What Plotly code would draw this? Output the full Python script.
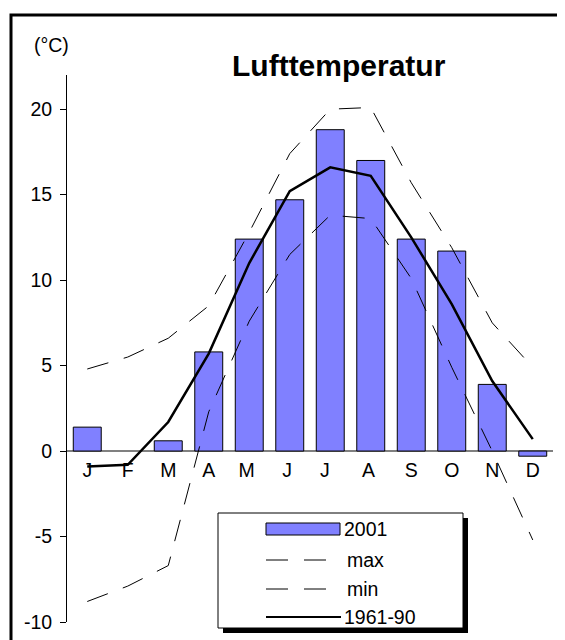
import plotly.graph_objects as go

# ---- data ----
months = ["J", "F", "M", "A", "M ", "J ", "J  ", "A ", "S", "O", "N", "D"]
t2001 = [1.4, None, 0.6, 5.8, 12.4, 14.7, 18.8, 17.0, 12.4, 11.7, 3.9, -0.3]
t_max = [4.8, 5.5, 6.6, 8.5, 12.8, 17.4, 20.0, 20.1, 15.7, 11.9, 7.5, 4.9]
t_min = [-8.8, -7.9, -6.7, 2.3, 7.6, 11.5, 13.8, 13.6, 10.1, 4.9, 0.0, -5.2]
t_norm = [-0.9, -0.8, 1.7, 5.7, 11.0, 15.2, 16.6, 16.1, 12.5, 8.6, 4.1, 0.7]
ytickvals = [-10, -5, 0, 5, 10, 15, 20]
yticktext = ["-10", "-5", "0", "5", "10", "15", "20"]
legend_names = ["2001", "max", "min", "1961-90"]

W, H = 565, 640
OFF = 8  # default page body margin
# plot area in screen pixels
SX0, SX1, SY0, SY1 = 67, 553, 75, 622
L = SX0 - OFF
R = W - (SX1 - OFF)
T = SY0 - OFF
B = H - (SY1 - OFF)
YMIN, YMAX = -10, 22
FONT = "Liberation Sans, Arial, sans-serif"
BAR = "#8080FF"
DASH = "22px,16px"


def px(x):
    return (x - SX0) / (SX1 - SX0)


def py(y):
    return (SY1 - y) / (SY1 - SY0)


fig = go.Figure()
fig.add_trace(go.Bar(x=months, y=t2001, name=legend_names[0],
                     marker=dict(color=BAR, line=dict(color="black", width=1))))
fig.add_trace(go.Scatter(x=months, y=t_max, name=legend_names[1], mode="lines",
                         line=dict(color="black", width=1, dash=DASH)))
fig.add_trace(go.Scatter(x=months, y=t_min, name=legend_names[2], mode="lines",
                         line=dict(color="black", width=1, dash=DASH)))
fig.add_trace(go.Scatter(x=months, y=t_norm, name=legend_names[3], mode="lines",
                         line=dict(color="black", width=2.5)))

shapes = []
# outer frame
shapes.append(dict(type="rect", xref="paper", yref="paper",
                   x0=px(11), x1=px(562), y0=py(15), y1=py(660),
                   line=dict(color="black", width=3), fillcolor="rgba(0,0,0,0)"))
# custom legend: shadow, box
shapes.append(dict(type="rect", xref="paper", yref="paper",
                   x0=px(223), x1=px(468), y0=py(518), y1=py(633),
                   line=dict(width=0), fillcolor="black"))
shapes.append(dict(type="rect", xref="paper", yref="paper",
                   x0=px(218), x1=px(463), y0=py(513), y1=py(628),
                   line=dict(color="black", width=1), fillcolor="white"))
shapes.append(dict(type="rect", xref="paper", yref="paper",
                   x0=px(266), x1=px(340), y0=py(523), y1=py(535),
                   line=dict(color="black", width=1), fillcolor=BAR))
for yy in (560, 589):
    shapes.append(dict(type="line", xref="paper", yref="paper",
                       x0=px(266), x1=px(329), y0=py(yy), y1=py(yy),
                       line=dict(color="black", width=1, dash=DASH)))
shapes.append(dict(type="line", xref="paper", yref="paper",
                   x0=px(266), x1=px(341), y0=py(617), y1=py(617),
                   line=dict(color="black", width=2)))

annotations = []
for name, xx, yy in zip(legend_names, (342, 345, 345, 342), (529, 560, 589, 617)):
    annotations.append(dict(text=name, xref="paper", yref="paper", x=px(xx), y=py(yy),
                            xanchor="left", yanchor="middle", showarrow=False,
                            font=dict(family=FONT, size=19.5, color="black")))
annotations.append(dict(text="<b>Lufttemperatur</b>", xref="paper", yref="paper",
                        x=px(339), y=py(66), xanchor="center", yanchor="middle",
                        showarrow=False, font=dict(family=FONT, size=30, color="black")))
annotations.append(dict(text="(°C)", xref="paper", yref="paper",
                        x=px(32), y=py(45), xanchor="left", yanchor="middle",
                        showarrow=False, font=dict(family=FONT, size=19.5, color="black")))

fig.update_layout(
    width=W, height=H,
    margin=dict(l=L, r=R, t=T, b=B, pad=0),
    paper_bgcolor="white", plot_bgcolor="white",
    showlegend=False, bargap=0.31,
    font=dict(family=FONT, size=19.5, color="black"),
    shapes=shapes, annotations=annotations,
    xaxis=dict(type="category", range=[-0.5, 11.5], anchor="free",
               position=(0 - YMIN) / (YMAX - YMIN), showline=False, ticks="",
               showgrid=False, zeroline=False, ticklabelstandoff=5,
               tickfont=dict(family=FONT, size=19.5, color="black")),
    yaxis=dict(range=[YMIN, YMAX], tickvals=ytickvals, ticktext=yticktext,
               showline=True, linecolor="black", linewidth=1,
               ticks="outside", ticklen=6, tickcolor="black", tickwidth=1,
               showgrid=False, zeroline=True, zerolinecolor="#808080",
               zerolinewidth=2, ticklabelstandoff=4,
               tickfont=dict(family=FONT, size=19.5, color="black")),
)

fig.write_html("out.html")
